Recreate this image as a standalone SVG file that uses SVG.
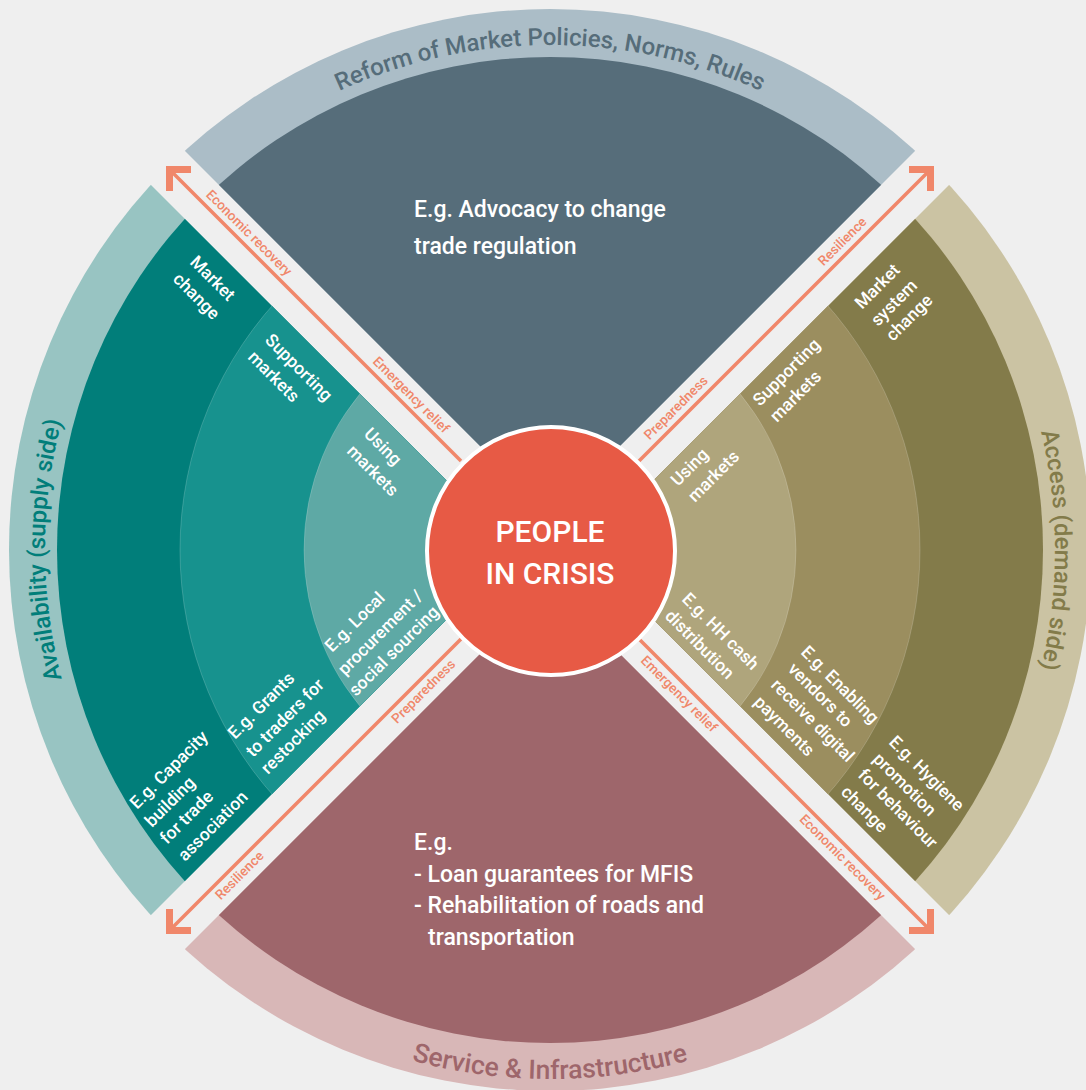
<svg xmlns="http://www.w3.org/2000/svg" width="1086" height="1090" viewBox="0 0 1086 1090">
<defs>
<style>
.lbl{font-family:Roboto,"Liberation Sans",sans-serif;font-size:17.5px;font-weight:500;fill:#fff}
.big{font-family:Roboto,"Liberation Sans",sans-serif;font-size:23px;font-weight:500;fill:#fff}
.arc{font-family:Roboto,"Liberation Sans",sans-serif;font-size:24px;font-weight:500}
.arcb{font-family:Roboto,"Liberation Sans",sans-serif;font-size:26.5px;font-weight:500}
.al{font-family:Roboto,"Liberation Sans",sans-serif;font-size:13.5px;font-weight:500;fill:#f0876a;text-anchor:middle}
.arw{stroke:#f0876a;stroke-width:3.5;fill:none}
.head{fill:#f0876a}
.ring{stroke:#ffffff;stroke-opacity:0.18;stroke-width:1}
</style>
<clipPath id="cTop"><polygon points="550,516 -100,-134 1200,-134"/></clipPath>
<clipPath id="cBot"><polygon points="550,584 -100,1234 1200,1234"/></clipPath>
<clipPath id="cLeft"><polygon points="516,550 -134,-100 -134,1200"/></clipPath>
<clipPath id="cRight"><polygon points="584,550 1234,-100 1234,1200"/></clipPath>
<path id="pTop" d="M45,550 A505,505 0 0 1 1055,550"/>
<path id="pLeft" d="M550,1055 A505,505 0 0 1 550,45"/>
<path id="pRight" d="M550,45 A505,505 0 0 1 550,1055"/>
<path id="pBot" d="M21,550 A529,529 0 0 0 1079,550"/>
</defs>
<rect width="1086" height="1090" fill="#efefef"/>

<g id="top-quadrant">
<g clip-path="url(#cTop)">
<circle cx="550" cy="550" r="541" fill="#abbdc7"/>
<circle cx="550" cy="550" r="493" fill="#566d7a"/>
</g>
<text class="arc" fill="#566d7a"><textPath href="#pTop" startOffset="50%" text-anchor="middle">Reform of Market Policies, Norms, Rules</textPath></text>
<text class="big" x="414" y="217">E.g. Advocacy to change</text>
<text class="big" x="414" y="254">trade regulation</text>
</g>

<g id="bottom-quadrant">
<g clip-path="url(#cBot)">
<circle cx="550" cy="550" r="541" fill="#d8b7b7"/>
<circle cx="550" cy="550" r="493" fill="#9e666b"/>
</g>
<text class="arcb" fill="#9e666b"><textPath href="#pBot" startOffset="50%" text-anchor="middle">Service &amp; Infrastructure</textPath></text>
<text class="big" x="414" y="850">E.g.</text>
<text class="big" x="414" y="882">- Loan guarantees for MFIS</text>
<text class="big" x="414" y="913">- Rehabilitation of roads and</text>
<text class="big" x="428" y="945">transportation</text>
</g>

<g id="left-quadrant">
<g clip-path="url(#cLeft)">
<circle cx="550" cy="550" r="541" fill="#98c4c2"/>
<circle cx="550" cy="550" r="493" fill="#017e7a"/>
<circle class="ring" cx="550" cy="550" r="370" fill="#17928e"/>
<circle class="ring" cx="550" cy="550" r="246" fill="#5ea9a5"/>
</g>
<text class="arc" fill="#017e7a"><textPath href="#pLeft" startOffset="50%" text-anchor="middle">Availability (supply side)</textPath></text>
<g id="left-market-change">
<text class="lbl" x="189" y="263" transform="rotate(45 189 263)">Market</text>
<text class="lbl" x="172" y="280" transform="rotate(45 172 280)">change</text>
</g>
<g id="left-supporting">
<text class="lbl" x="264" y="341" transform="rotate(45 264 341)">Supporting</text>
<text class="lbl" x="247" y="358" transform="rotate(45 247 358)">markets</text>
</g>
<g id="left-using">
<text class="lbl" x="363" y="435" transform="rotate(45 363 435)">Using</text>
<text class="lbl" x="346" y="452" transform="rotate(45 346 452)">markets</text>
</g>
<g id="left-local">
<text class="lbl" x="332" y="653" transform="rotate(-45 332 653)">E.g. Local</text>
<text class="lbl" x="345" y="676" transform="rotate(-45 345 676)">procurement /</text>
<text class="lbl" x="356" y="697" transform="rotate(-45 356 697)">social sourcing</text>
</g>
<g id="left-grants">
<text class="lbl" x="235" y="740" transform="rotate(-45 235 740)">E.g. Grants</text>
<text class="lbl" x="253" y="758" transform="rotate(-45 253 758)">to traders for</text>
<text class="lbl" x="268" y="775" transform="rotate(-45 268 775)">restocking</text>
</g>
<g id="left-capacity">
<text class="lbl" x="137" y="810" transform="rotate(-45 137 810)">E.g. Capacity</text>
<text class="lbl" x="152" y="828" transform="rotate(-45 152 828)">building</text>
<text class="lbl" x="167" y="845" transform="rotate(-45 167 845)">for trade</text>
<text class="lbl" x="185" y="862" transform="rotate(-45 185 862)">association</text>
</g>
</g>

<g id="right-quadrant">
<g clip-path="url(#cRight)">
<circle cx="550" cy="550" r="541" fill="#cbc3a3"/>
<circle cx="550" cy="550" r="493" fill="#837b4a"/>
<circle class="ring" cx="550" cy="550" r="370" fill="#9b8e5f"/>
<circle class="ring" cx="550" cy="550" r="246" fill="#afa57c"/>
</g>
<text class="arc" fill="#837b4a"><textPath href="#pRight" startOffset="50%" text-anchor="middle">Access (demand side)</textPath></text>
<g id="right-market-system">
<text class="lbl" x="862" y="310" transform="rotate(-45 862 310)">Market</text>
<text class="lbl" x="878" y="327" transform="rotate(-45 878 327)">system</text>
<text class="lbl" x="893" y="342" transform="rotate(-45 893 342)">change</text>
</g>
<g id="right-supporting">
<text class="lbl" x="760" y="407" transform="rotate(-45 760 407)">Supporting</text>
<text class="lbl" x="777" y="423" transform="rotate(-45 777 423)">markets</text>
</g>
<g id="right-using">
<text class="lbl" x="678" y="487" transform="rotate(-45 678 487)">Using</text>
<text class="lbl" x="695" y="503" transform="rotate(-45 695 503)">markets</text>
</g>
<g id="right-cash">
<text class="lbl" x="681" y="600" transform="rotate(45 681 600)">E.g. HH cash</text>
<text class="lbl" x="664" y="617" transform="rotate(45 664 617)">distribution</text>
</g>
<g id="right-enabling">
<text class="lbl" x="800" y="653" transform="rotate(45 800 653)">E.g. Enabling</text>
<text class="lbl" x="787" y="670" transform="rotate(45 787 670)">vendors to</text>
<text class="lbl" x="770" y="686" transform="rotate(45 770 686)">receive digital</text>
<text class="lbl" x="753" y="703" transform="rotate(45 753 703)">payments</text>
</g>
<g id="right-hygiene">
<text class="lbl" x="888" y="743" transform="rotate(45 888 743)">E.g. Hygiene</text>
<text class="lbl" x="872" y="760" transform="rotate(45 872 760)">promotion</text>
<text class="lbl" x="857" y="776" transform="rotate(45 857 776)">for behaviour</text>
<text class="lbl" x="840" y="793" transform="rotate(45 840 793)">change</text>
</g>
</g>

<g id="connectors">
<line class="arw" x1="461" y1="461" x2="170" y2="170"/>
<polygon class="head" points="166,166 191,166 191,173 173,173 173,191 166,191"/>
<line class="arw" x1="639" y1="461" x2="930" y2="170"/>
<polygon class="head" points="934,166 909,166 909,173 927,173 927,191 934,191"/>
<line class="arw" x1="461" y1="639" x2="170" y2="930"/>
<polygon class="head" points="166,934 191,934 191,927 173,927 173,909 166,909"/>
<line class="arw" x1="639" y1="639" x2="930" y2="930"/>
<polygon class="head" points="934,934 909,934 909,927 927,927 927,909 934,909"/>
<text class="al" transform="translate(241 241) rotate(45)" y="-7">Economic recovery</text>
<text class="al" transform="translate(403 403) rotate(45)" y="-7">Emergency relief</text>
<text class="al" transform="translate(684 416) rotate(-45)" y="-7">Preparedness</text>
<text class="al" transform="translate(850.5 249.5) rotate(-45)" y="-7">Resilience</text>
<text class="al" transform="translate(416 684) rotate(-45)" y="15">Preparedness</text>
<text class="al" transform="translate(232 868) rotate(-45)" y="15">Resilience</text>
<text class="al" transform="translate(686.5 686.5) rotate(45)" y="15">Emergency relief</text>
<text class="al" transform="translate(850 850) rotate(45)" y="15">Economic recovery</text>
</g>

<g id="center">
<circle cx="551" cy="551" r="124" fill="#e75a45" stroke="#fff" stroke-width="4"/>
<text x="550" y="542" text-anchor="middle" font-family="Roboto, 'Liberation Sans', sans-serif" font-size="30" font-weight="500" fill="#fff">PEOPLE</text>
<text x="550" y="584" text-anchor="middle" font-family="Roboto, 'Liberation Sans', sans-serif" font-size="30" font-weight="500" fill="#fff">IN CRISIS</text>
</g>
</svg>
